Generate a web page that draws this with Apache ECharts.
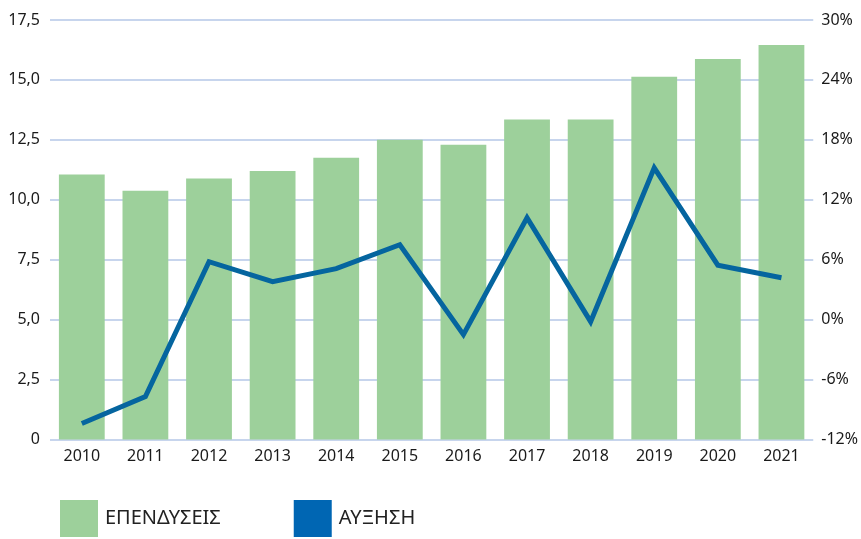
<!DOCTYPE html>
<html>
<head>
<meta charset="utf-8">
<script src="https://cdn.jsdelivr.net/npm/echarts@6/dist/echarts.min.js"></script>
<style>
  html, body { margin: 0; padding: 0; background: #fff; }
  #chart { width: 861px; height: 539px; }
</style>
</head>
<body>
<div id="chart"></div>
<script>
const years = ['2010', '2011', '2012', '2013', '2014', '2015', '2016', '2017', '2018', '2019', '2020', '2021'];
// investments (left axis)
const investments = [11.05, 10.38, 10.89, 11.2, 11.75, 12.5, 12.3, 13.35, 13.35, 15.13, 15.87, 16.46];
// growth % (right axis)
const growth = [-10.4, -7.7, 5.8, 3.8, 5.1, 7.5, -1.5, 10.2, -0.2, 15.2, 5.45, 4.2];

const textColor = '#1a1a1a';
const gridColor = '#b4c7e7';
const font = 'Noto Sans';

const chart = echarts.init(document.getElementById('chart'));

chart.setOption({
  animation: false,
  grid: { left: 50, right: 47, top: 20, bottom: 99.5 },
  legend: {
    left: 55,
    top: 495,
    itemWidth: 38,
    itemHeight: 37,
    itemGap: 73,
    textStyle: { fontFamily: font, fontSize: 20, color: '#222', padding: [0, 0, 0, 2] },
    data: [
      { name: 'ΕΠΕΝΔΥΣΕΙΣ', icon: 'rect', itemStyle: { color: '#9dd09b' } },
      { name: 'ΑΥΞΗΣΗ', icon: 'rect', itemStyle: { color: '#0066b3' } }
    ]
  },
  xAxis: {
    type: 'category',
    data: years,
    axisTick: { show: false },
    axisLine: { show: false },
    axisLabel: { color: textColor, fontFamily: font, fontSize: 16, margin: 9 }
  },
  yAxis: [
    {
      type: 'value',
      min: 0,
      max: 17.5,
      interval: 2.5,
      axisLine: { show: false },
      axisTick: { show: false },
      splitLine: { lineStyle: { color: gridColor, width: 1.5 } },
      axisLabel: {
        color: textColor,
        fontFamily: font,
        fontSize: 16,
        margin: 10,
        formatter: v => (v === 0 ? '0' : v.toFixed(1).replace('.', ','))
      }
    },
    {
      type: 'value',
      min: -12,
      max: 30,
      interval: 6,
      axisLine: { show: false },
      axisTick: { show: false },
      splitLine: { show: false },
      axisLabel: {
        color: textColor,
        fontFamily: font,
        fontSize: 16,
        margin: 8,
        formatter: v => v + '%'
      }
    }
  ],
  series: [
    {
      name: 'ΕΠΕΝΔΥΣΕΙΣ',
      type: 'bar',
      data: investments,
      barCategoryGap: '28%',
      itemStyle: { color: '#9dd09b' }
    },
    {
      name: 'ΑΥΞΗΣΗ',
      type: 'line',
      yAxisIndex: 1,
      data: growth,
      symbol: 'none',
      lineStyle: { color: '#05659f', width: 5, join: 'miter' },
      itemStyle: { color: '#05659f' }
    }
  ]
});
</script>
</body>
</html>
